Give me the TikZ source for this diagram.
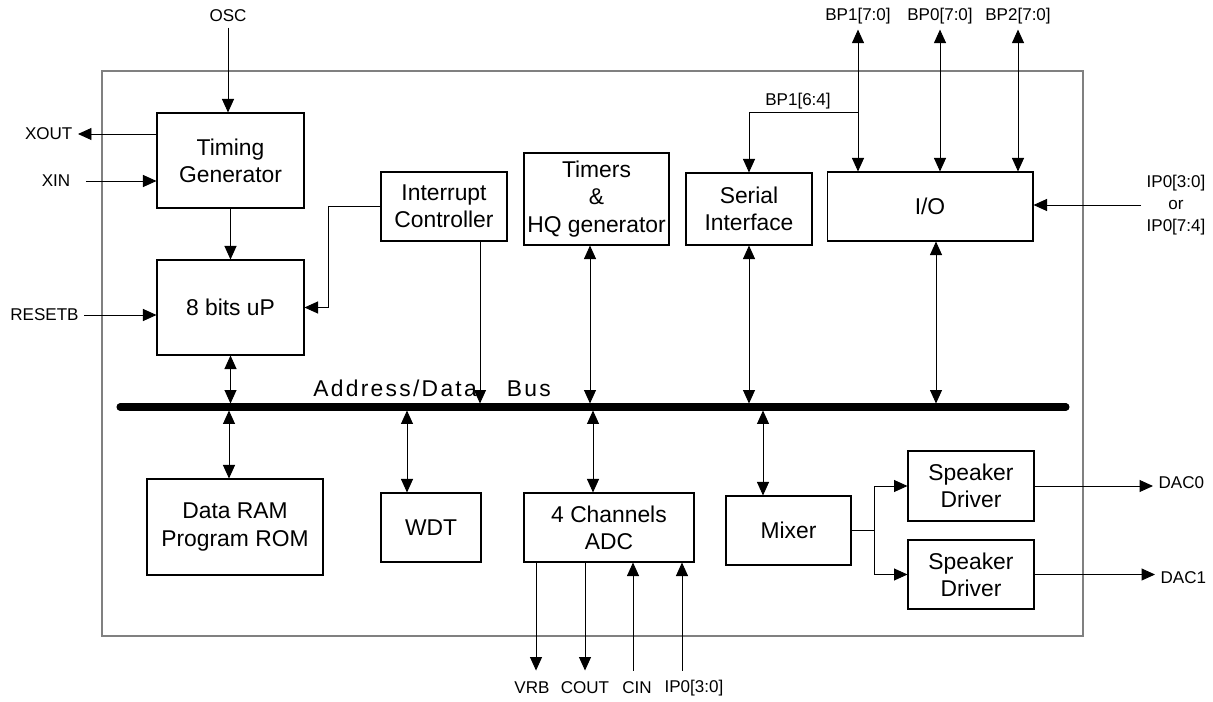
\documentclass[tikz,border=0pt]{standalone}
\usepackage{fontspec}
\setmainfont{Liberation Sans}
\usetikzlibrary{arrows.meta, positioning}
\newcommand{\boxfont}{\fontsize{13}{15.5}\selectfont}
\newcommand{\pinfont}{\fontsize{9.7}{12.5}\selectfont}
\tikzset{
	block/.style={draw, rectangle, inner sep=1pt, line width=0.6pt, align=center, font=\boxfont},
	pin/.style={inner sep=3pt, align=center, font=\pinfont},
	bus/.style={line width=4pt, line cap=round},
	tip/.style={line width=0.55pt, >={Triangle[length=0.27cm, width=0.24cm]}},
}

\begin{document}
\begin{tikzpicture}[x=0.02cm, y=-0.02cm]
	\useasboundingbox (0,0) rectangle (1213,702);
	% chip outline
	\draw [gray, line width=0.75pt] (102,71) rectangle (1083,636);
	
	% upper row
	\node (tg) [block, minimum width=2.94cm, minimum height=1.9cm] at (230.5,160.5) {Timing\\Generator};
	\node (up) [block, minimum width=2.94cm, minimum height=1.9cm] at (230.5,307.5) {8 bits uP};
	\node (ic) [block, minimum width=2.52cm, minimum height=1.38cm] at (444,206.5) {Interrupt\\Controller};
	\node (tim) [block, minimum width=2.9cm, minimum height=1.84cm] at (596.5,199) {Timers\\\&\\HQ generator};
	\node (ser) [block, minimum width=2.52cm, minimum height=1.44cm] at (749,209) {Serial\\Interface};
	\node (io) [block, minimum width=4.12cm, minimum height=1.38cm] at (930,206.5) {I/O};
	
	% lower row
	\node (ram) [block, minimum width=3.52cm, minimum height=1.92cm] at (235,527) {Data RAM\\Program ROM};
	\node (wdt) [block, minimum width=2cm, minimum height=1.38cm] at (431,527.5) {WDT};
	\node (adc) [block, minimum width=3.4cm, minimum height=1.38cm] at (609,527.5) {4 Channels\\ADC};
	\node (mix) [block, minimum width=2.5cm, minimum height=1.38cm] at (788.5,530.5) {Mixer};
	\node (sd0) [block, minimum width=2.52cm, minimum height=1.4cm] at (971,486) {Speaker\\Driver};
	\node (sd1) [block, minimum width=2.52cm, minimum height=1.38cm] at (971,574.5) {Speaker\\Driver};
	
	% bus and its taps
	\coordinate (busL) at (120,407);
	\coordinate (busR) at (1066,407);
	\draw [bus] (busL) -- (busR);
	\node (buslbl) [anchor=base west, inner sep=0pt, font=\boxfont\addfontfeature{LetterSpace=10}] at (313,396) {Address/Data\hspace{0.6cm}Bus};
	\coordinate (busup) at (230.5,403.5);
	\coordinate (busic) at (480,403.5);
	\coordinate (bustim) at (590,403.5);
	\coordinate (busser) at (749,403.5);
	\coordinate (busio) at (936,403.5);
	\coordinate (busram) at (229,410.5);
	\coordinate (buswdt) at (407,410.5);
	\coordinate (busadc) at (593,410.5);
	\coordinate (busmix) at (763,410.5);
	
	% pins
	\node (osc) [pin] at (228,16) {OSC};
	\node (xout) [pin, anchor=east] at (78,134) {XOUT};
	\node (xin) [pin] at (56,181) {XIN};
	\node (rst) [pin] at (44.5,315) {RESETB};
	\node (bp1) [pin] at (858,16) {BP1[7:0]};
	\node (bp0) [pin] at (940,16) {BP0[7:0]};
	\node (bp2) [pin] at (1018,16) {BP2[7:0]};
	\node (bp16) [pin] at (798,101) {BP1[6:4]};
	\coordinate (tap) at (858,112);
	\node (ip) [pin] at (1176,205) {IP0[3:0]\\or\\IP0[7:4]};
	\node (dac0) [pin, anchor=west] at (1153,483) {DAC0};
	\node (dac1) [pin, anchor=west] at (1155,578) {DAC1};
	\node (vrb) [pin] at (532,688) {VRB};
	\node (cout) [pin] at (585,688) {COUT};
	\node (cin) [pin] at (637,688) {CIN};
	\node (ipa) [pin] at (694,688) {IP0[3:0]};
	
	\begin{scope}[tip, ->]
		\draw (osc.south) -- (osc.south |- tg.north);
		\draw (tg.west |- xout.east) -- (xout.east);
		\draw [shorten <=0.2cm] (xin.east) -- (tg.west |- xin.east);
		\draw (tg) -- (up);
		\draw (rst.east) -- (up.west |- rst.east);
		\draw (ic.west) -- ++(-52,0) |- (up.east);
		\draw (busic |- ic.south) -- (busic);
		\draw (tap) -| (ser.north);
		\draw (ip.west) -- (ip.west -| io.east);
		\draw (mix.east) -- ++(23,0) |- (sd0.west);
		\draw (mix.east) -- ++(23,0) |- (sd1.west);
		\draw (sd0.east) -- (sd0.east -| dac0.west);
		\draw (sd1.east) -- (sd1.east -| dac1.west);
		\draw ([xshift=-1.46cm]adc.south) -- ++(0,108);
		\draw ([xshift=-0.48cm]adc.south) -- ++(0,108);
	\end{scope}
	\begin{scope}[tip, <-]
		\draw ([xshift=0.48cm]adc.south) -- ++(0,108);
		\draw ([xshift=1.46cm]adc.south) -- ++(0,108);
	\end{scope}
	\begin{scope}[tip, <->]
		\draw (bp1.south) -- (bp1.south |- io.north);
		\draw (bp0.south) -- (bp0.south |- io.north);
		\draw (bp2.south) -- (bp2.south |- io.north);
		\draw (up.south) -- (busup);
		\draw (bustim |- tim.south) -- (bustim);
		\draw (busser |- ser.south) -- (busser);
		\draw (busio |- io.south) -- (busio);
		\draw (busram |- ram.north) -- (busram);
		\draw (buswdt |- wdt.north) -- (buswdt);
		\draw (busadc |- adc.north) -- (busadc);
		\draw (busmix |- mix.north) -- (busmix);
	\end{scope}
\end{tikzpicture}
\end{document}
